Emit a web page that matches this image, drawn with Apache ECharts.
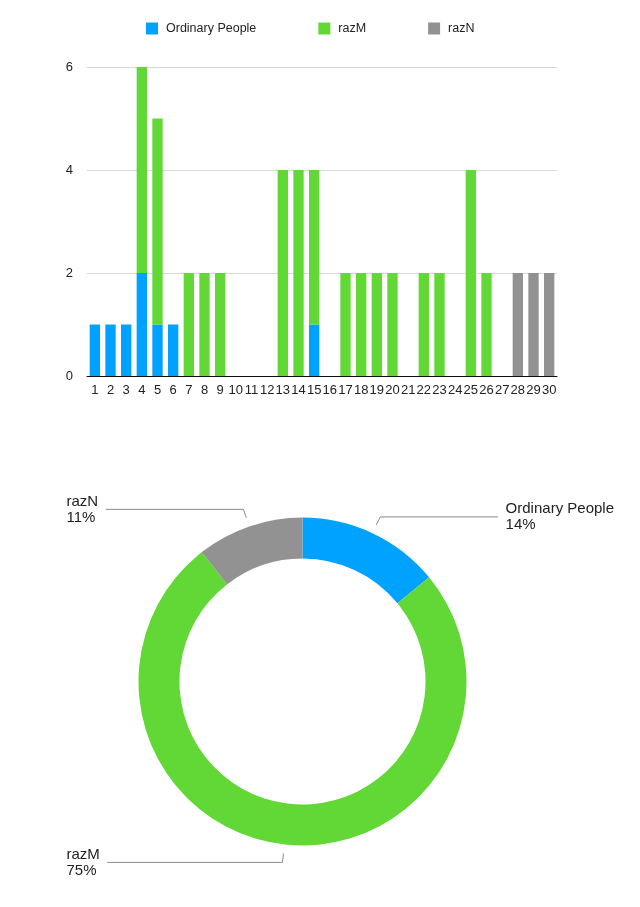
<!DOCTYPE html>
<html>
<head>
<meta charset="utf-8">
<script src="https://cdn.jsdelivr.net/npm/echarts@6/dist/echarts.min.js"></script>
<style>
  html, body { margin: 0; padding: 0; background: #fff; }
  #chart { width: 640px; height: 907px; }
</style>
</head>
<body>
<div id="chart"></div>
<script>
// days of the month
var days = ['1','2','3','4','5','6','7','8','9','10','11','12','13','14','15',
            '16','17','18','19','20','21','22','23','24','25','26','27','28','29','30'];

var ordinaryPeople = [1,1,1,2,1,1,0,0,0,0,0,0,0,0,1,0,0,0,0,0,0,0,0,0,0,0,0,0,0,0];
var razM           = [0,0,0,4,4,0,2,2,2,0,0,0,4,4,3,0,2,2,2,2,0,2,2,0,4,2,0,0,0,0];
var razN           = [0,0,0,0,0,0,0,0,0,0,0,0,0,0,0,0,0,0,0,0,0,0,0,0,0,0,0,2,2,2];

var seriesNames = ['Ordinary People', 'razM', 'razN'];
var colors = ['#00A2FF', '#61D836', '#929292'];
var yTicks = [0, 2, 4, 6];

function sum(arr) {
  return arr.reduce(function (a, b) { return a + b; }, 0);
}

var font = '"Liberation Sans", Helvetica, Arial, sans-serif';
var chart = echarts.init(document.getElementById('chart'));

var option = {
  animation: false,
  color: colors,
  textStyle: { fontFamily: font },
  legend: {
    top: 17,
    left: 141,
    itemWidth: 12,
    itemHeight: 12,
    itemGap: 62,
    icon: 'rect',
    data: seriesNames,
    textStyle: { fontSize: 12.5, color: '#222', padding: [0, 0, 0, 3] }
  },
  grid: {
    left: 87,
    right: 83,
    top: 67,
    bottom: 531
  },
  xAxis: {
    type: 'category',
    data: days,
    axisTick: { show: false },
    axisLine: { lineStyle: { color: '#111', width: 1.2 } },
    axisLabel: { interval: 0, fontSize: 13, color: '#222', margin: 8 }
  },
  yAxis: {
    type: 'value',
    min: yTicks[0],
    max: yTicks[yTicks.length - 1],
    interval: 2,
    axisLine: { show: false },
    axisTick: { show: false },
    axisLabel: { fontSize: 13, color: '#222', margin: 14 },
    splitLine: { lineStyle: { color: '#d9d9d9', width: 1 } }
  },
  series: [
    { name: seriesNames[0], type: 'bar', stack: 'all', barWidth: '66%', data: ordinaryPeople },
    { name: seriesNames[1], type: 'bar', stack: 'all', barWidth: '66%', data: razM },
    { name: seriesNames[2], type: 'bar', stack: 'all', barWidth: '66%', data: razN },
    {
      type: 'pie',
      left: 46.5,
      right: 6,
      top: 0,
      bottom: 0,
      center: [256, 681.5],
      radius: [123, 164],
      startAngle: 90,
      clockwise: true,
      silent: true,
      label: {
        alignTo: 'edge',
        edgeDistance: 20,
        distanceToLabelLine: 7.5,
        fontSize: 15,
        lineHeight: 16,
        color: '#222',
        formatter: function (p) {
          return p.name + '\n' + Math.round(p.percent) + '%';
        }
      },
      labelLine: {
        length: 18,
        length2: 10,
        lineStyle: { color: '#8a8a8a', width: 1 }
      },
      labelLayout: function (params) {
        var pts = params.labelLinePoints;
        if (!pts) return {};
        var p0 = pts[0], p1 = pts[1], p2 = pts[2];
        var vx = p1[0] - p0[0], vy = p1[1] - p0[1];
        var len = Math.sqrt(vx * vx + vy * vy) || 1;
        var gap = 9;
        var out = {
          labelLinePoints: [
            [p0[0] + vx / len * gap, p0[1] + vy / len * gap],
            [p1[0], p1[1]],
            [p2[0], p2[1]]
          ]
        };
        // right side labels: keep text left aligned
        if (p2[0] > p0[0]) {
          out.x = params.labelRect.x;
          out.align = 'left';
        }
        return out;
      },
      data: [
        { name: seriesNames[0], value: sum(ordinaryPeople) },
        { name: seriesNames[1], value: sum(razM) },
        { name: seriesNames[2], value: sum(razN) }
      ]
    }
  ]
};

chart.setOption(option);
</script>
</body>
</html>
